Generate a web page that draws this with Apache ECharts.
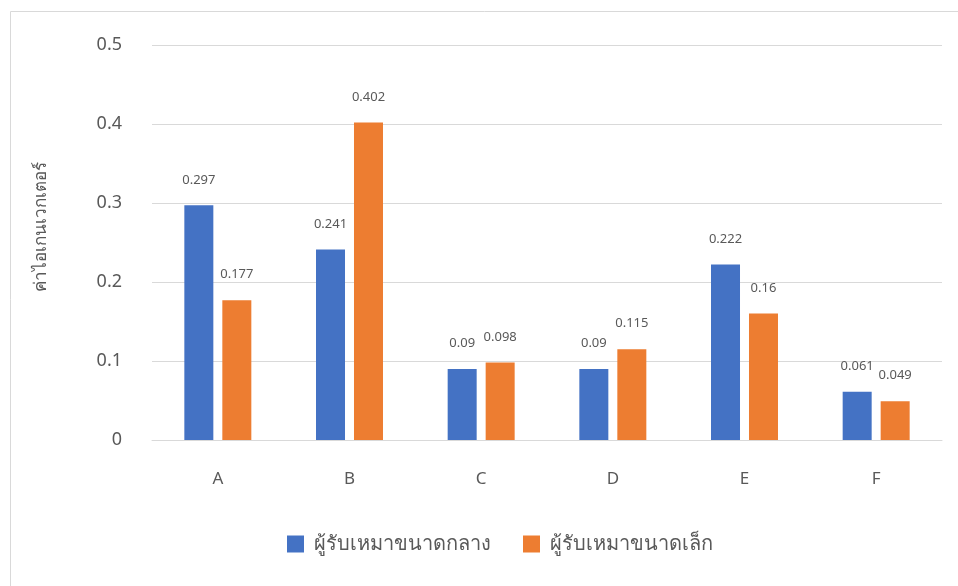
<!DOCTYPE html>
<html lang="th">
<head>
    <meta charset="UTF-8">
    <title>ค่าไอเกนเวกเตอร์</title>
    <script src="https://cdn.jsdelivr.net/npm/echarts@6/dist/echarts.min.js"></script>
    <style>
        html, body { margin: 0; padding: 0; background: #fff; }
    </style>
</head>
<body>
    <div id="main" style="width: 958px;height:586px;"></div>
</body>
    <script type="text/javascript">
        var categories = ['A', 'B', 'C', 'D', 'E', 'F'];
        var seriesNames = ['ผู้รับเหมาขนาดกลาง', 'ผู้รับเหมาขนาดเล็ก'];
        var mediumValues = [0.297, 0.241, 0.09, 0.09, 0.222, 0.061];
        var smallValues = [0.177, 0.402, 0.098, 0.115, 0.16, 0.049];
        var yTicks = [0, 0.1, 0.2, 0.3, 0.4, 0.5];
        var yName = 'ค่าไอเกนเวกเตอร์';

        var font = 'Tahoma, "Noto Sans", "DejaVu Sans", sans-serif';
        var myChart = echarts.init(document.getElementById('main'));

        function barSeries(name, data, color) {
            return {
                name: name,
                type: 'bar',
                data: data,
                barWidth: 29,
                barGap: '31%',
                itemStyle: { color: color },
                label: {
                    show: true,
                    position: 'top',
                    distance: 19,
                    color: '#595959',
                    fontSize: 13,
                    fontFamily: font
                }
            };
        }

        var option = {
            animation: false,
            graphic: [{
                type: 'rect',
                shape: { x: 10.5, y: 11.5, width: 960, height: 600 },
                style: { fill: 'none', stroke: '#d9d9d9', lineWidth: 1 }
            }],
            grid: { left: 152, right: 16, top: 45, bottom: 146 },
            legend: {
                bottom: 27,
                left: 282,
                itemWidth: 17,
                itemHeight: 17,
                itemGap: 32,
                icon: 'rect',
                textStyle: { color: '#595959', fontSize: 20, fontFamily: font, padding: [0, 0, 0, 5] },
                data: seriesNames
            },
            xAxis: {
                type: 'category',
                data: categories,
                axisTick: { show: false },
                axisLine: { lineStyle: { color: '#d9d9d9', width: 1 } },
                axisLabel: { color: '#595959', fontSize: 17, margin: 31, fontFamily: font }
            },
            yAxis: {
                type: 'value',
                min: yTicks[0],
                max: yTicks[yTicks.length - 1],
                interval: 0.1,
                name: yName,
                nameLocation: 'middle',
                nameGap: 102,
                nameRotate: 90,
                nameTextStyle: { color: '#595959', fontSize: 17, fontFamily: font, padding: [0, 0, 0, 32] },
                axisLabel: { color: '#595959', fontSize: 18, margin: 30, fontFamily: font },
                splitLine: { lineStyle: { color: '#d9d9d9', width: 1 } }
            },
            series: [
                barSeries(seriesNames[0], mediumValues, '#4472c4'),
                barSeries(seriesNames[1], smallValues, '#ed7d31')
            ]
        };

        myChart.setOption(option);
    </script>
</html>
